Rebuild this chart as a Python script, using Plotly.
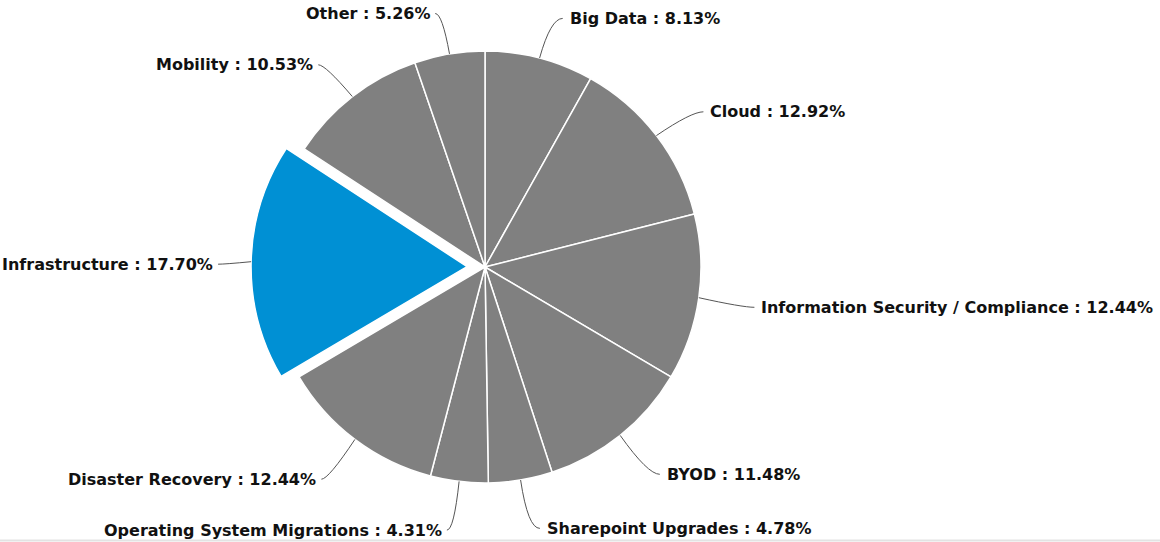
import math
import plotly.graph_objects as go

labels = ["Big Data", "Cloud", "Information Security / Compliance", "BYOD",
          "Sharepoint Upgrades", "Operating System Migrations", "Disaster Recovery",
          "Infrastructure", "Mobility", "Other"]
values = [8.13, 12.92, 12.44, 11.48, 4.78, 4.31, 12.44, 17.70, 10.53, 5.26]
highlight = "Infrastructure"

W, H = 1160, 542
CX, CY = 485, 267
R = 216
PULL = 0.083
LABEL_R = 260
GRAY = "#808080"
BLUE = "#0090d4"

colors = [BLUE if l == highlight else GRAY for l in labels]
pulls = [PULL if l == highlight else 0 for l in labels]

box = R * (1 + PULL)
fig = go.Figure()
fig.add_trace(go.Pie(
    labels=labels, values=values, sort=False, direction="clockwise", rotation=0,
    marker=dict(colors=colors, line=dict(color="white", width=1.5)),
    pull=pulls, textinfo="none", hoverinfo="label+percent", showlegend=False,
    domain=dict(x=[(CX - box) / W, (CX + box) / W], y=[1 - (CY + box) / H, 1 - (CY - box) / H]),
))

total = sum(values)
shapes = []
annotations = []
cum = 0.0
for lab, val, p in zip(labels, values, pulls):
    mid = (cum + val / 2) / total * 2 * math.pi
    cum += val
    s, c = math.sin(mid), math.cos(mid)
    off = p * R
    x0 = CX + (R + off) * s
    y0 = CY - (R + off) * c
    ly = CY - LABEL_R * c + 3 + 2 * max(0.0, -c)
    cxp = CX + LABEL_R * s
    side = 1 if s >= 0 else -1
    ex = cxp + side * (12 if side > 0 else 7)
    shapes.append(dict(type="path", xref="x", yref="y",
                       path=f"M {x0:.1f},{y0:.1f} Q {cxp:.1f},{ly:.1f} {ex:.1f},{ly:.1f}",
                       line=dict(color="#555555", width=1)))
    annotations.append(dict(x=ex + side * (5 if side > 0 else 3), y=ly, xref="x", yref="y",
                            text=f"{lab} : {val:.2f}%", showarrow=False,
                            xanchor="left" if side > 0 else "right", yanchor="middle",
                            font=dict(family="DejaVu Sans", size=16, color="#111111", weight="bold")))

shapes.append(dict(type="line", xref="x", yref="y", x0=0, x1=W, y0=540.5, y1=540.5,
                   line=dict(color="#e3e3e3", width=2)))

fig.update_layout(
    width=W, height=H, margin=dict(l=0, r=0, t=0, b=0),
    paper_bgcolor="white", plot_bgcolor="white",
    xaxis=dict(range=[0, W], visible=False, fixedrange=True),
    yaxis=dict(range=[H, 0], visible=False, fixedrange=True),
    shapes=shapes, annotations=annotations,
)
fig.write_html("out.html", config={"displayModeBar": False},
               post_script="document.body.style.margin='0';")
